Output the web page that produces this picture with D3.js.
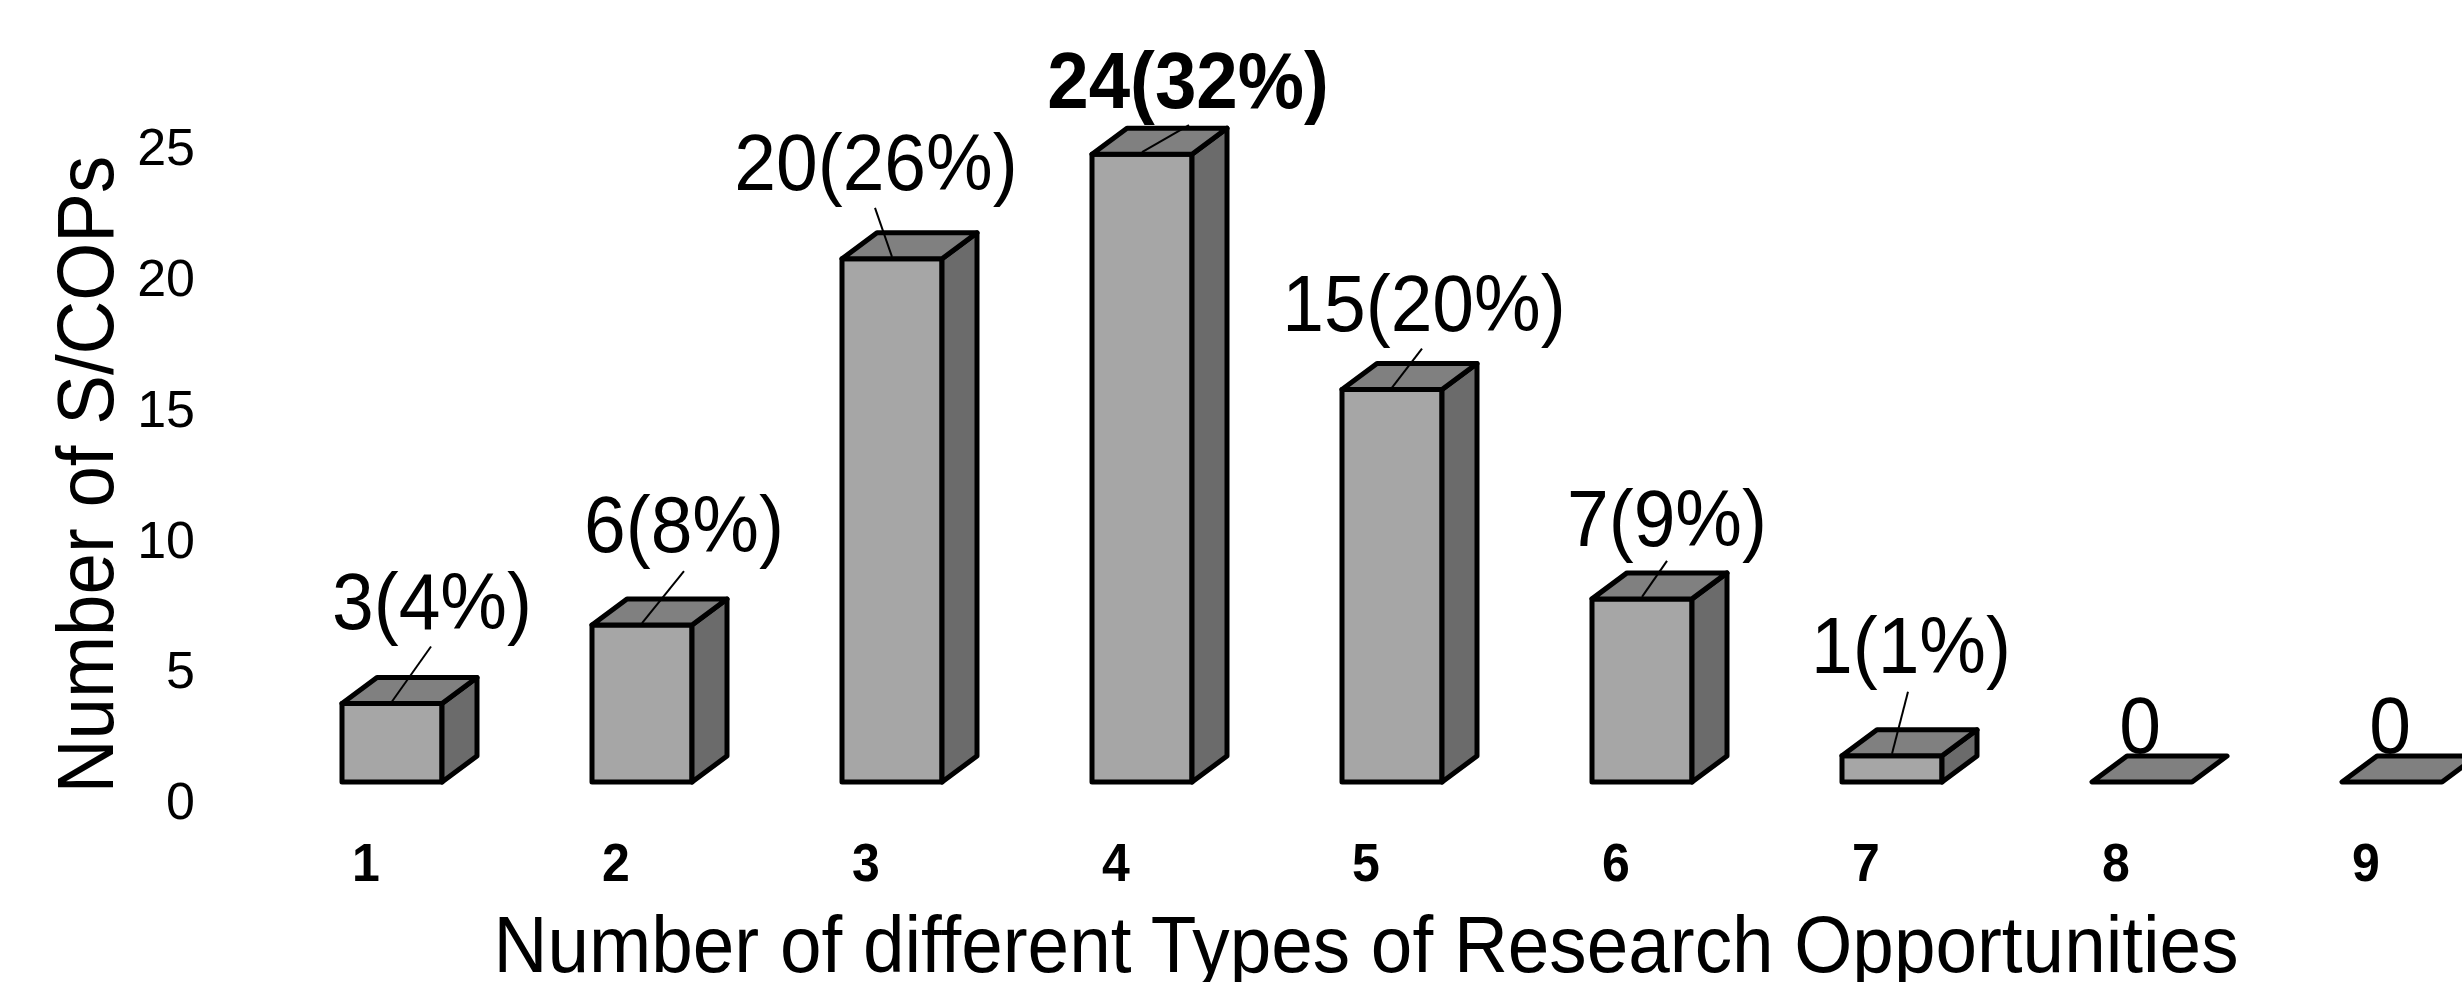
<!DOCTYPE html>
<html><head><meta charset="utf-8">
<script src="https://cdn.jsdelivr.net/npm/d3@7"></script>
<style>html,body{margin:0;padding:0;background:#fff;overflow:hidden}svg{display:block}text{font-family:"Liberation Sans",Arial,sans-serif;fill:#000}</style>
</head><body><svg id="c" width="2462" height="982"></svg>
<script>
const categories = ["1","2","3","4","5","6","7","8","9"];
const values = [3,6,20,24,15,7,1,0,0];
const valueLabels = ["3(4%)","6(8%)","20(26%)","24(32%)","15(20%)","7(9%)","1(1%)","0","0"];
const yTicks = [0,5,10,15,20,25];
// layout offsets of labels and leader lines, relative to each bar's top centre
const labelDx = [40,42,-16,46,32,25,19,-2,-2];
const labelDy = [-75,-73,-69,-46,-59,-53,-83,-29,-29];
const leaderEndDx = [39,42,-17,47,30,25,16,null,null];
const leaderEndDy = [-57,-54,-51,-29,-41,-38,-64,null,null];
const boldIndex = 3;

const base=782, depthX=35, depthY=26, step=250, barW=100, stretch=1.07;
const svg=d3.select("#c");
const bx=d3.scalePoint().domain(categories).range([342,342+step*8]);
const y=d3.scaleLinear().domain([0,25]).range([base,base-654]);
const rows=categories.map((c,i)=>({c,v:values[i],i}));

const g=svg.append("g").attr("stroke","#000").attr("stroke-width",5).attr("stroke-linejoin","round");
const bars=g.selectAll("g").data(rows).join("g");
const poly=p=>p.map(q=>q.join(",")).join(" ");
bars.filter(d=>d.v>0).append("polygon").attr("fill","#a6a6a6")
  .attr("points",d=>{const l=bx(d.c),r=l+barW,t=y(d.v);return poly([[l,t],[r,t],[r,base],[l,base]]);});
bars.filter(d=>d.v>0).append("polygon").attr("fill","#6b6b6b")
  .attr("points",d=>{const r=bx(d.c)+barW,t=y(d.v);return poly([[r,t],[r+depthX,t-depthY],[r+depthX,base-depthY],[r,base]]);});
bars.append("polygon").attr("fill","#808080")
  .attr("points",d=>{const l=bx(d.c),r=l+barW,t=y(d.v);return poly([[l,t],[r,t],[r+depthX,t-depthY],[l+depthX,t-depthY]]);});

svg.append("g").attr("stroke","#000").attr("stroke-width",2).selectAll("line")
  .data(rows.filter(d=>leaderEndDx[d.i]!==null)).join("line")
  .attr("x1",d=>bx(d.c)+barW/2).attr("y1",d=>y(d.v)-2)
  .attr("x2",d=>bx(d.c)+barW/2+leaderEndDx[d.i]).attr("y2",d=>y(d.v)+leaderEndDy[d.i]);

svg.append("g").selectAll("text").data(rows).join("text")
  .attr("transform",d=>`translate(${bx(d.c)+barW/2+labelDx[d.i]},${y(d.v)+labelDy[d.i]}) scale(1,${stretch})`)
  .attr("text-anchor","middle").attr("font-size",d=>d.i===boldIndex?74.5:75)
  .attr("font-weight",d=>d.i===boldIndex?"bold":"normal")
  .text(d=>valueLabels[d.i]);

// y axis labels
const ya=svg.append("g").attr("transform","translate(195,18)")
  .call(d3.axisLeft(y).tickValues(yTicks).tickSize(0).tickPadding(0));
ya.select(".domain").remove();
ya.selectAll("text").attr("font-size",52).attr("dy","0.36em").attr("font-family",'"Liberation Sans"');

// x axis labels
const xa=svg.append("g").attr("transform","translate(24,0)");
xa.selectAll("text").data(categories).join("text")
  .attr("transform",d=>`translate(${bx(d)},881) scale(1,${stretch})`).attr("text-anchor","middle")
  .attr("font-size",50).attr("font-weight","bold").text(d=>d);

svg.append("text").attr("transform",`translate(113,474.5) rotate(-90) scale(1,${stretch})`).attr("text-anchor","middle")
  .attr("font-size",74.5).text("Number of S/COPs");
svg.append("text").attr("transform",`translate(1366,972) scale(1,${stretch})`).attr("text-anchor","middle")
  .attr("font-size",74.7).text("Number of different Types of Research Opportunities");
</script></body></html>
